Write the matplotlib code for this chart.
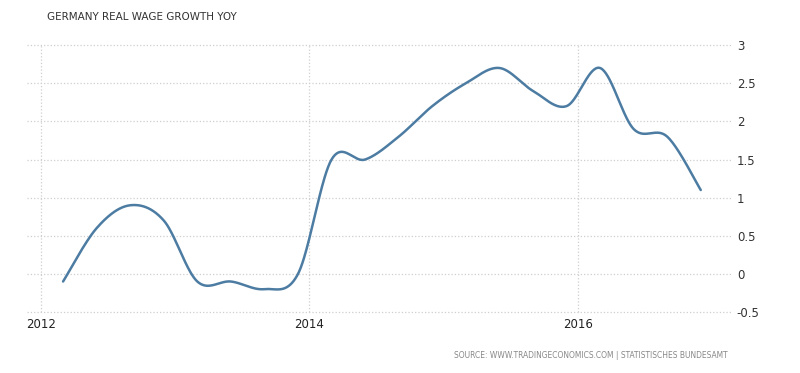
import numpy as np
import matplotlib.pyplot as plt

# quarterly real wage growth, year-on-year (%)
dates = ['2012-03', '2012-06', '2012-09', '2012-12',
         '2013-03', '2013-06', '2013-09', '2013-12',
         '2014-03', '2014-06', '2014-09', '2014-12',
         '2015-03', '2015-06', '2015-09', '2015-12',
         '2016-03', '2016-06', '2016-09', '2016-12']
wage_growth = [-0.1, 0.6, 0.9, 0.7,
               -0.1, -0.1, -0.2, 0.0,
               1.5, 1.5, 1.8, 2.2,
               2.5, 2.7, 2.4, 2.2,
               2.7, 1.9, 1.8, 1.1]
x_ticks = [2012, 2014, 2016]
y_ticks = [-0.5, 0, 0.5, 1, 1.5, 2, 2.5, 3]

title = 'GERMANY REAL WAGE GROWTH YOY'
source = 'SOURCE: WWW.TRADINGECONOMICS.COM | STATISTISCHES BUNDESAMT'


def to_year(d):
    return int(d[:4]) + (int(d[5:]) - 1) / 12


def cardinal_spline(xs, ys, n=40):
    # catmull-rom style curve (tension 0.5) through every point
    pts = np.column_stack([xs, ys])
    padded = np.vstack([pts[0], pts, pts[-1]])
    out = []
    t = np.linspace(0, 1, n)[:, None]
    for i in range(len(pts) - 1):
        p0, p3 = padded[i + 1], padded[i + 2]
        c1 = p0 + (padded[i + 2] - padded[i]) / 6
        c2 = p3 - (padded[i + 3] - padded[i + 1]) / 6
        seg = ((1 - t) ** 3 * p0 + 3 * (1 - t) ** 2 * t * c1
               + 3 * (1 - t) * t ** 2 * c2 + t ** 3 * p3)
        out.append(seg if i == 0 else seg[1:])
    out = np.vstack(out)
    return out[:, 0], out[:, 1]


xs = np.array([to_year(d) for d in dates])
sx, sy = cardinal_spline(xs, np.array(wage_growth))

fig = plt.figure(figsize=(8, 3.73), dpi=100)
ax = fig.add_axes([0.034, 0.1635, 0.88, 0.7155])

ax.plot(sx, sy, color='#4d7ca3', linewidth=1.8, solid_capstyle='round')

ax.set_xlim(2012 - 13.5 / 134.25, 2012 + 690.5 / 134.25)
ax.set_ylim(-0.5, 3)
ax.set_xticks(x_ticks)
ax.set_xticklabels([str(v) for v in x_ticks], fontsize=8.5, color='#222222')
ax.set_yticks(y_ticks)
ax.set_yticklabels(['%g' % v for v in y_ticks], fontsize=8.5, color='#333333')
ax.yaxis.tick_right()
ax.tick_params(axis='both', length=0)
ax.tick_params(axis='y', pad=4)
ax.tick_params(axis='x', pad=4)
ax.grid(True, color='#cfcfcf', linestyle=':', linewidth=0.9)
for gl in ax.get_xgridlines() + ax.get_ygridlines():
    gl.set_clip_on(False)
for s in ax.spines.values():
    s.set_visible(False)

fig.text(47 / 800, 1 - 17 / 373, title, fontsize=7.5, color='#333333',
         va='center', ha='left')
fig.text(728 / 800, 1 - 356 / 373, source, fontsize=6.0, color='#888888',
         va='center', ha='right', fontstretch='condensed')

fig.savefig('out.png', dpi=100)
